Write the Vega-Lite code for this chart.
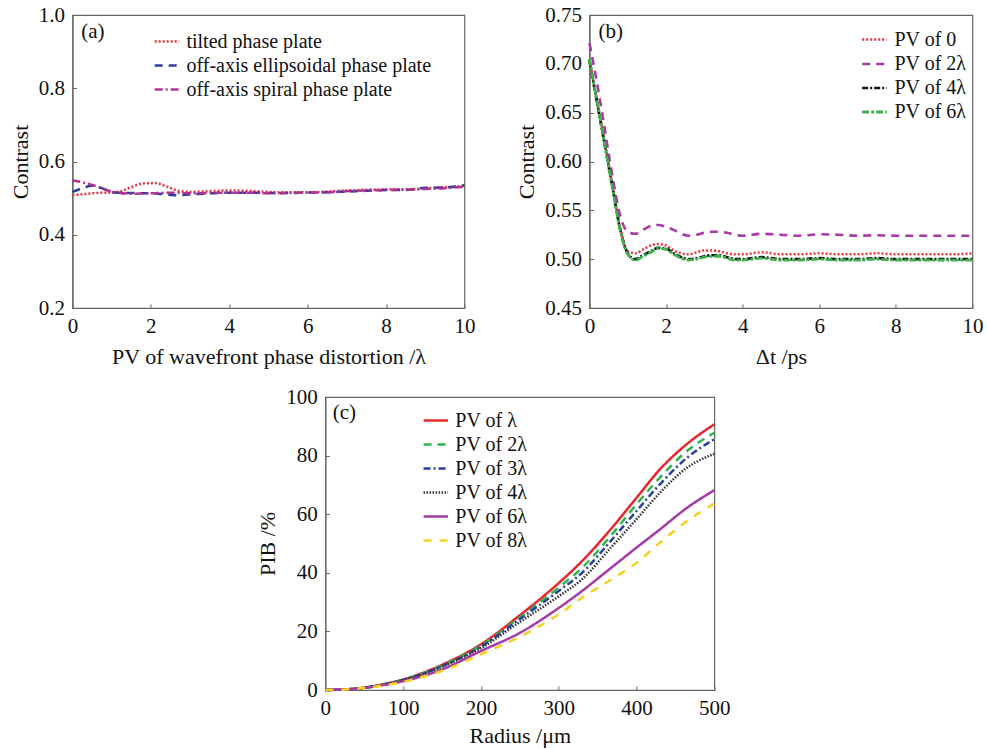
{
  "$schema": "https://vega.github.io/schema/vega-lite/v6.json",
  "padding": {"left": 8, "top": 3, "right": 5, "bottom": 5},
  "background": "white",
  "config": {
    "font": "Liberation Serif",
    "view": {"stroke": "#666", "strokeWidth": 1.2},
    "axis": {
      "grid": false, "domainColor": "#666", "domainWidth": 1.2, "tickColor": "#666", "tickSize": -4,
      "labelFontSize": 21, "titleFontSize": 22, "labelColor": "#111", "titleColor": "#111",
      "titleFontWeight": "normal", "labelFlush": false, "labelOverlap": false
    },
    "axisX": {"labelPadding": 11, "titlePadding": 10},
    "axisY": {"labelPadding": 12, "titlePadding": 6},
    "legend": {
      "labelFontSize": 20, "labelColor": "#111", "symbolType": "stroke", "symbolSize": 600,
      "symbolStrokeWidth": 2.5, "rowPadding": -1, "labelOffset": 6, "padding": 0, "labelLimit": 500
    }
  },
  "resolve": {
    "scale": {"color": "independent", "strokeDash": "independent", "strokeWidth": "independent"},
    "legend": {"color": "independent", "strokeDash": "independent", "strokeWidth": "independent"}
  },
  "spacing": 17,
  "center": true,
  "vconcat": [
    {
      "spacing": 38,
      "resolve": {
        "scale": {"color": "independent", "strokeDash": "independent", "strokeWidth": "independent"},
        "legend": {"color": "independent", "strokeDash": "independent", "strokeWidth": "independent"}
      },
      "hconcat": [
        {
          "width": 392, "height": 293,
          "layer": [
            {
              "data": {"values": [
                {"s":"tilted phase plate","pv":0,"c":0.508},{"s":"tilted phase plate","pv":0.3,"c":0.511},{"s":"tilted phase plate","pv":0.6,"c":0.514},{"s":"tilted phase plate","pv":0.9,"c":0.515},{"s":"tilted phase plate","pv":1.2,"c":0.518},{"s":"tilted phase plate","pv":1.5,"c":0.53},{"s":"tilted phase plate","pv":1.8,"c":0.54},{"s":"tilted phase plate","pv":2.1,"c":0.541},{"s":"tilted phase plate","pv":2.4,"c":0.532},{"s":"tilted phase plate","pv":2.7,"c":0.52},{"s":"tilted phase plate","pv":3.0,"c":0.517},{"s":"tilted phase plate","pv":3.5,"c":0.519},{"s":"tilted phase plate","pv":4.0,"c":0.521},{"s":"tilted phase plate","pv":4.5,"c":0.52},{"s":"tilted phase plate","pv":5.0,"c":0.517},{"s":"tilted phase plate","pv":5.5,"c":0.516},{"s":"tilted phase plate","pv":6.0,"c":0.516},{"s":"tilted phase plate","pv":6.5,"c":0.518},{"s":"tilted phase plate","pv":7.0,"c":0.521},{"s":"tilted phase plate","pv":7.5,"c":0.523},{"s":"tilted phase plate","pv":8.0,"c":0.524},{"s":"tilted phase plate","pv":8.5,"c":0.524},{"s":"tilted phase plate","pv":9.0,"c":0.527},{"s":"tilted phase plate","pv":9.5,"c":0.53},{"s":"tilted phase plate","pv":10,"c":0.533},
                {"s":"off-axis ellipsoidal phase plate","pv":0,"c":0.517},{"s":"off-axis ellipsoidal phase plate","pv":0.25,"c":0.527},{"s":"off-axis ellipsoidal phase plate","pv":0.5,"c":0.534},{"s":"off-axis ellipsoidal phase plate","pv":0.8,"c":0.525},{"s":"off-axis ellipsoidal phase plate","pv":1.1,"c":0.515},{"s":"off-axis ellipsoidal phase plate","pv":1.5,"c":0.514},{"s":"off-axis ellipsoidal phase plate","pv":2.0,"c":0.513},{"s":"off-axis ellipsoidal phase plate","pv":2.3,"c":0.511},{"s":"off-axis ellipsoidal phase plate","pv":2.6,"c":0.508},{"s":"off-axis ellipsoidal phase plate","pv":3.0,"c":0.51},{"s":"off-axis ellipsoidal phase plate","pv":3.5,"c":0.513},{"s":"off-axis ellipsoidal phase plate","pv":4.0,"c":0.515},{"s":"off-axis ellipsoidal phase plate","pv":4.5,"c":0.515},{"s":"off-axis ellipsoidal phase plate","pv":5.0,"c":0.514},{"s":"off-axis ellipsoidal phase plate","pv":5.5,"c":0.514},{"s":"off-axis ellipsoidal phase plate","pv":6.0,"c":0.515},{"s":"off-axis ellipsoidal phase plate","pv":6.5,"c":0.516},{"s":"off-axis ellipsoidal phase plate","pv":7.0,"c":0.518},{"s":"off-axis ellipsoidal phase plate","pv":7.5,"c":0.52},{"s":"off-axis ellipsoidal phase plate","pv":8.0,"c":0.522},{"s":"off-axis ellipsoidal phase plate","pv":8.5,"c":0.522},{"s":"off-axis ellipsoidal phase plate","pv":9.0,"c":0.528},{"s":"off-axis ellipsoidal phase plate","pv":9.5,"c":0.529},{"s":"off-axis ellipsoidal phase plate","pv":10,"c":0.535},
                {"s":"off-axis spiral phase plate","pv":0,"c":0.549},{"s":"off-axis spiral phase plate","pv":0.3,"c":0.542},{"s":"off-axis spiral phase plate","pv":0.6,"c":0.533},{"s":"off-axis spiral phase plate","pv":0.9,"c":0.521},{"s":"off-axis spiral phase plate","pv":1.2,"c":0.514},{"s":"off-axis spiral phase plate","pv":1.5,"c":0.512},{"s":"off-axis spiral phase plate","pv":2.0,"c":0.513},{"s":"off-axis spiral phase plate","pv":2.5,"c":0.515},{"s":"off-axis spiral phase plate","pv":3.0,"c":0.513},{"s":"off-axis spiral phase plate","pv":3.5,"c":0.514},{"s":"off-axis spiral phase plate","pv":4.0,"c":0.515},{"s":"off-axis spiral phase plate","pv":4.5,"c":0.515},{"s":"off-axis spiral phase plate","pv":5.0,"c":0.513},{"s":"off-axis spiral phase plate","pv":5.5,"c":0.514},{"s":"off-axis spiral phase plate","pv":6.0,"c":0.515},{"s":"off-axis spiral phase plate","pv":6.5,"c":0.516},{"s":"off-axis spiral phase plate","pv":7.0,"c":0.519},{"s":"off-axis spiral phase plate","pv":7.5,"c":0.521},{"s":"off-axis spiral phase plate","pv":8.0,"c":0.522},{"s":"off-axis spiral phase plate","pv":8.5,"c":0.523},{"s":"off-axis spiral phase plate","pv":9.0,"c":0.525},{"s":"off-axis spiral phase plate","pv":9.5,"c":0.527},{"s":"off-axis spiral phase plate","pv":10,"c":0.531}
              ]},
              "mark": {"type": "line", "interpolate": "monotone", "strokeWidth": 2.5},
              "encoding": {
                "x": {"field": "pv", "type": "quantitative", "scale": {"domain": [0, 10], "nice": false}, "axis": {"title": "PV of wavefront phase distortion /λ", "values": [0, 2, 4, 6, 8, 10]}},
                "y": {"field": "c", "type": "quantitative", "scale": {"domain": [0.2, 1.0], "nice": false}, "axis": {"title": "Contrast", "values": [0.2, 0.4, 0.6, 0.8, 1.0], "format": ".1f"}},
                "color": {"field": "s", "type": "nominal", "sort": null,
                  "scale": {"domain": ["tilted phase plate", "off-axis ellipsoidal phase plate", "off-axis spiral phase plate"], "range": ["#e8343c", "#2f3d9e", "#b2338f"]},
                  "legend": {"title": null, "orient": "none", "legendX": 81, "legendY": 13}},
                "strokeDash": {"field": "s", "type": "nominal", "sort": null,
                  "scale": {"domain": ["tilted phase plate", "off-axis ellipsoidal phase plate", "off-axis spiral phase plate"], "range": [[2, 2], [8, 6], [8, 3, 2, 3]]},
                  "legend": {"title": null, "orient": "none", "legendX": 81, "legendY": 13}}
              }
            },
            {
              "data": {"values": [{"label": "(a)"}]},
              "mark": {"type": "text", "fontSize": 21, "color": "#111"},
              "encoding": {"x": {"datum": 0.52}, "y": {"datum": 0.954}, "text": {"field": "label"}}
            }
          ]
        },
        {
          "width": 383, "height": 293,
          "layer": [
            {
              "data": {"values": [
                {"s":"PV of 0","t":0,"c":0.705},{"s":"PV of 0","t":0.2,"c":0.662},{"s":"PV of 0","t":0.4,"c":0.62},{"s":"PV of 0","t":0.6,"c":0.576},{"s":"PV of 0","t":0.8,"c":0.533},{"s":"PV of 0","t":1.0,"c":0.508},{"s":"PV of 0","t":1.2,"c":0.506},{"s":"PV of 0","t":1.4,"c":0.51},{"s":"PV of 0","t":1.6,"c":0.514},{"s":"PV of 0","t":1.8,"c":0.5155},{"s":"PV of 0","t":2.0,"c":0.514},{"s":"PV of 0","t":2.2,"c":0.509},{"s":"PV of 0","t":2.4,"c":0.506},{"s":"PV of 0","t":2.6,"c":0.505},{"s":"PV of 0","t":2.8,"c":0.507},{"s":"PV of 0","t":3.0,"c":0.509},{"s":"PV of 0","t":3.2,"c":0.509},{"s":"PV of 0","t":3.4,"c":0.508},{"s":"PV of 0","t":3.6,"c":0.506},{"s":"PV of 0","t":3.8,"c":0.505},{"s":"PV of 0","t":4.0,"c":0.505},{"s":"PV of 0","t":4.5,"c":0.507},{"s":"PV of 0","t":5.0,"c":0.505},{"s":"PV of 0","t":5.5,"c":0.505},{"s":"PV of 0","t":6.0,"c":0.506},{"s":"PV of 0","t":6.5,"c":0.505},{"s":"PV of 0","t":7.0,"c":0.505},{"s":"PV of 0","t":7.5,"c":0.506},{"s":"PV of 0","t":8.0,"c":0.505},{"s":"PV of 0","t":8.5,"c":0.505},{"s":"PV of 0","t":9.0,"c":0.505},{"s":"PV of 0","t":9.5,"c":0.505},{"s":"PV of 0","t":10,"c":0.506},
                {"s":"PV of 2λ","t":0,"c":0.721},{"s":"PV of 2λ","t":0.2,"c":0.68},{"s":"PV of 2λ","t":0.4,"c":0.633},{"s":"PV of 2λ","t":0.6,"c":0.585},{"s":"PV of 2λ","t":0.8,"c":0.545},{"s":"PV of 2λ","t":1.0,"c":0.528},{"s":"PV of 2λ","t":1.2,"c":0.526},{"s":"PV of 2λ","t":1.4,"c":0.53},{"s":"PV of 2λ","t":1.6,"c":0.534},{"s":"PV of 2λ","t":1.8,"c":0.535},{"s":"PV of 2λ","t":2.0,"c":0.533},{"s":"PV of 2λ","t":2.2,"c":0.53},{"s":"PV of 2λ","t":2.4,"c":0.526},{"s":"PV of 2λ","t":2.6,"c":0.524},{"s":"PV of 2λ","t":2.8,"c":0.525},{"s":"PV of 2λ","t":3.0,"c":0.527},{"s":"PV of 2λ","t":3.2,"c":0.528},{"s":"PV of 2λ","t":3.4,"c":0.528},{"s":"PV of 2λ","t":3.6,"c":0.527},{"s":"PV of 2λ","t":3.8,"c":0.525},{"s":"PV of 2λ","t":4.0,"c":0.524},{"s":"PV of 2λ","t":4.5,"c":0.526},{"s":"PV of 2λ","t":5.0,"c":0.525},{"s":"PV of 2λ","t":5.5,"c":0.524},{"s":"PV of 2λ","t":6.0,"c":0.5255},{"s":"PV of 2λ","t":6.5,"c":0.525},{"s":"PV of 2λ","t":7.0,"c":0.524},{"s":"PV of 2λ","t":7.5,"c":0.5245},{"s":"PV of 2λ","t":8.0,"c":0.524},{"s":"PV of 2λ","t":8.5,"c":0.524},{"s":"PV of 2λ","t":9.0,"c":0.524},{"s":"PV of 2λ","t":9.5,"c":0.524},{"s":"PV of 2λ","t":10,"c":0.524},
                {"s":"PV of 4λ","t":0,"c":0.703},{"s":"PV of 4λ","t":0.2,"c":0.66},{"s":"PV of 4λ","t":0.4,"c":0.617},{"s":"PV of 4λ","t":0.6,"c":0.574},{"s":"PV of 4λ","t":0.8,"c":0.531},{"s":"PV of 4λ","t":1.0,"c":0.506},{"s":"PV of 4λ","t":1.2,"c":0.5},{"s":"PV of 4λ","t":1.4,"c":0.504},{"s":"PV of 4λ","t":1.6,"c":0.508},{"s":"PV of 4λ","t":1.8,"c":0.5115},{"s":"PV of 4λ","t":2.0,"c":0.511},{"s":"PV of 4λ","t":2.2,"c":0.506},{"s":"PV of 4λ","t":2.4,"c":0.502},{"s":"PV of 4λ","t":2.6,"c":0.5},{"s":"PV of 4λ","t":2.8,"c":0.501},{"s":"PV of 4λ","t":3.0,"c":0.503},{"s":"PV of 4λ","t":3.2,"c":0.504},{"s":"PV of 4λ","t":3.4,"c":0.504},{"s":"PV of 4λ","t":3.6,"c":0.502},{"s":"PV of 4λ","t":3.8,"c":0.5},{"s":"PV of 4λ","t":4.0,"c":0.5},{"s":"PV of 4λ","t":4.5,"c":0.502},{"s":"PV of 4λ","t":5.0,"c":0.5},{"s":"PV of 4λ","t":5.5,"c":0.5},{"s":"PV of 4λ","t":6.0,"c":0.501},{"s":"PV of 4λ","t":6.5,"c":0.5},{"s":"PV of 4λ","t":7.0,"c":0.5},{"s":"PV of 4λ","t":7.5,"c":0.501},{"s":"PV of 4λ","t":8.0,"c":0.5},{"s":"PV of 4λ","t":8.5,"c":0.5},{"s":"PV of 4λ","t":9.0,"c":0.5},{"s":"PV of 4λ","t":9.5,"c":0.5},{"s":"PV of 4λ","t":10,"c":0.5},
                {"s":"PV of 6λ","t":0,"c":0.705},{"s":"PV of 6λ","t":0.2,"c":0.661},{"s":"PV of 6λ","t":0.4,"c":0.617},{"s":"PV of 6λ","t":0.6,"c":0.573},{"s":"PV of 6λ","t":0.8,"c":0.53},{"s":"PV of 6λ","t":1.0,"c":0.505},{"s":"PV of 6λ","t":1.2,"c":0.499},{"s":"PV of 6λ","t":1.4,"c":0.503},{"s":"PV of 6λ","t":1.6,"c":0.507},{"s":"PV of 6λ","t":1.8,"c":0.511},{"s":"PV of 6λ","t":2.0,"c":0.51},{"s":"PV of 6λ","t":2.2,"c":0.505},{"s":"PV of 6λ","t":2.4,"c":0.501},{"s":"PV of 6λ","t":2.6,"c":0.499},{"s":"PV of 6λ","t":2.8,"c":0.5},{"s":"PV of 6λ","t":3.0,"c":0.502},{"s":"PV of 6λ","t":3.2,"c":0.503},{"s":"PV of 6λ","t":3.4,"c":0.503},{"s":"PV of 6λ","t":3.6,"c":0.501},{"s":"PV of 6λ","t":3.8,"c":0.499},{"s":"PV of 6λ","t":4.0,"c":0.499},{"s":"PV of 6λ","t":4.5,"c":0.501},{"s":"PV of 6λ","t":5.0,"c":0.499},{"s":"PV of 6λ","t":5.5,"c":0.499},{"s":"PV of 6λ","t":6.0,"c":0.5},{"s":"PV of 6λ","t":6.5,"c":0.499},{"s":"PV of 6λ","t":7.0,"c":0.499},{"s":"PV of 6λ","t":7.5,"c":0.5},{"s":"PV of 6λ","t":8.0,"c":0.499},{"s":"PV of 6λ","t":8.5,"c":0.499},{"s":"PV of 6λ","t":9.0,"c":0.499},{"s":"PV of 6λ","t":9.5,"c":0.499},{"s":"PV of 6λ","t":10,"c":0.499}
              ]},
              "mark": {"type": "line", "interpolate": "monotone"},
              "encoding": {
                "x": {"field": "t", "type": "quantitative", "scale": {"domain": [0, 10], "nice": false}, "axis": {"title": "Δt /ps", "values": [0, 2, 4, 6, 8, 10]}},
                "y": {"field": "c", "type": "quantitative", "scale": {"domain": [0.45, 0.75], "nice": false}, "axis": {"title": "Contrast", "values": [0.45, 0.5, 0.55, 0.6, 0.65, 0.7, 0.75], "format": ".2f"}},
                "color": {"field": "s", "type": "nominal", "sort": null,
                  "scale": {"domain": ["PV of 0", "PV of 2λ", "PV of 4λ", "PV of 6λ"], "range": ["#e8343c", "#a83aa8", "#111111", "#3cb34a"]},
                  "legend": {"title": null, "orient": "none", "legendX": 271, "legendY": 11, "rowPadding": -2.6}},
                "strokeDash": {"field": "s", "type": "nominal", "sort": null,
                  "scale": {"domain": ["PV of 0", "PV of 2λ", "PV of 4λ", "PV of 6λ"], "range": [[2, 2], [8, 6], [6, 2, 2, 2], [7, 2, 3, 2]]},
                  "legend": {"title": null, "orient": "none", "legendX": 271, "legendY": 11, "rowPadding": -2.6}},
                "strokeWidth": {"field": "s", "type": "nominal", "sort": null,
                  "scale": {"domain": ["PV of 0", "PV of 2λ", "PV of 4λ", "PV of 6λ"], "range": [2.5, 2.8, 2.3, 3.6]},
                  "legend": {"title": null, "orient": "none", "legendX": 271, "legendY": 11, "rowPadding": -2.6}},
                "order": {"field": "t"}
              }
            },
            {
              "data": {"values": [{"label": "(b)"}]},
              "mark": {"type": "text", "fontSize": 21, "color": "#111"},
              "encoding": {"x": {"datum": 0.556}, "y": {"datum": 0.7326}, "text": {"field": "label"}}
            }
          ]
        }
      ]
    },
    {
      "width": 389, "height": 293,
      "layer": [
        {
          "data": {"values": [
            {"s":"PV of λ","r":0,"p":0},{"s":"PV of λ","r":25,"p":0.2},{"s":"PV of λ","r":50,"p":0.8},{"s":"PV of λ","r":75,"p":2.0},{"s":"PV of λ","r":100,"p":3.6},{"s":"PV of λ","r":150,"p":8.6},{"s":"PV of λ","r":200,"p":15.6},{"s":"PV of λ","r":250,"p":25.5},{"s":"PV of λ","r":300,"p":36.5},{"s":"PV of λ","r":330,"p":44.0},{"s":"PV of λ","r":365,"p":54.3},{"s":"PV of λ","r":400,"p":65.6},{"s":"PV of λ","r":430,"p":75.3},{"s":"PV of λ","r":465,"p":84.0},{"s":"PV of λ","r":500,"p":90.7},
            {"s":"PV of 2λ","r":0,"p":0},{"s":"PV of 2λ","r":25,"p":0.2},{"s":"PV of 2λ","r":50,"p":0.8},{"s":"PV of 2λ","r":75,"p":1.9},{"s":"PV of 2λ","r":100,"p":3.5},{"s":"PV of 2λ","r":150,"p":8.3},{"s":"PV of 2λ","r":200,"p":15.2},{"s":"PV of 2λ","r":250,"p":24.8},{"s":"PV of 2λ","r":300,"p":35.0},{"s":"PV of 2λ","r":330,"p":41.7},{"s":"PV of 2λ","r":365,"p":52.0},{"s":"PV of 2λ","r":400,"p":63.4},{"s":"PV of 2λ","r":430,"p":72.5},{"s":"PV of 2λ","r":465,"p":81.6},{"s":"PV of 2λ","r":500,"p":87.8},
            {"s":"PV of 3λ","r":0,"p":0},{"s":"PV of 3λ","r":25,"p":0.2},{"s":"PV of 3λ","r":50,"p":0.8},{"s":"PV of 3λ","r":75,"p":1.9},{"s":"PV of 3λ","r":100,"p":3.4},{"s":"PV of 3λ","r":150,"p":8.1},{"s":"PV of 3λ","r":200,"p":14.8},{"s":"PV of 3λ","r":250,"p":24.2},{"s":"PV of 3λ","r":300,"p":33.8},{"s":"PV of 3λ","r":330,"p":40.0},{"s":"PV of 3λ","r":365,"p":50.3},{"s":"PV of 3λ","r":400,"p":61.1},{"s":"PV of 3λ","r":430,"p":70.2},{"s":"PV of 3λ","r":465,"p":79.3},{"s":"PV of 3λ","r":500,"p":85.6},
            {"s":"PV of 4λ","r":0,"p":0},{"s":"PV of 4λ","r":25,"p":0.2},{"s":"PV of 4λ","r":50,"p":0.75},{"s":"PV of 4λ","r":75,"p":1.85},{"s":"PV of 4λ","r":100,"p":3.3},{"s":"PV of 4λ","r":150,"p":7.9},{"s":"PV of 4λ","r":200,"p":14.3},{"s":"PV of 4λ","r":250,"p":23.2},{"s":"PV of 4λ","r":300,"p":32.0},{"s":"PV of 4λ","r":330,"p":37.8},{"s":"PV of 4λ","r":365,"p":48.0},{"s":"PV of 4λ","r":400,"p":58.3},{"s":"PV of 4λ","r":430,"p":67.3},{"s":"PV of 4λ","r":465,"p":75.9},{"s":"PV of 4λ","r":500,"p":80.6},
            {"s":"PV of 6λ","r":0,"p":0},{"s":"PV of 6λ","r":25,"p":0.2},{"s":"PV of 6λ","r":50,"p":0.7},{"s":"PV of 6λ","r":75,"p":1.7},{"s":"PV of 6λ","r":100,"p":3.0},{"s":"PV of 6λ","r":150,"p":7.0},{"s":"PV of 6λ","r":200,"p":13.3},{"s":"PV of 6λ","r":250,"p":19.5},{"s":"PV of 6λ","r":300,"p":28.0},{"s":"PV of 6λ","r":330,"p":33.8},{"s":"PV of 6λ","r":365,"p":41.2},{"s":"PV of 6λ","r":400,"p":48.6},{"s":"PV of 6λ","r":430,"p":54.8},{"s":"PV of 6λ","r":465,"p":62.2},{"s":"PV of 6λ","r":500,"p":68.2},
            {"s":"PV of 8λ","r":0,"p":0},{"s":"PV of 8λ","r":25,"p":0.15},{"s":"PV of 8λ","r":50,"p":0.65},{"s":"PV of 8λ","r":75,"p":1.6},{"s":"PV of 8λ","r":100,"p":2.8},{"s":"PV of 8λ","r":150,"p":6.5},{"s":"PV of 8λ","r":200,"p":12.2},{"s":"PV of 8λ","r":250,"p":18.2},{"s":"PV of 8λ","r":300,"p":25.8},{"s":"PV of 8λ","r":330,"p":31.5},{"s":"PV of 8λ","r":365,"p":37.3},{"s":"PV of 8λ","r":400,"p":43.4},{"s":"PV of 8λ","r":430,"p":50.3},{"s":"PV of 8λ","r":465,"p":57.7},{"s":"PV of 8λ","r":500,"p":63.6}
          ]},
          "mark": {"type": "line", "interpolate": "monotone", "strokeWidth": 2.5},
          "encoding": {
            "x": {"field": "r", "type": "quantitative", "scale": {"domain": [0, 500], "nice": false}, "axis": {"title": "Radius /μm", "values": [0, 100, 200, 300, 400, 500], "titlePadding": 7}},
            "y": {"field": "p", "type": "quantitative", "scale": {"domain": [0, 100], "nice": false}, "axis": {"title": "PIB /%", "values": [0, 20, 40, 60, 80, 100]}},
            "color": {"field": "s", "type": "nominal", "sort": null,
              "scale": {"domain": ["PV of λ", "PV of 2λ", "PV of 3λ", "PV of 4λ", "PV of 6λ", "PV of 8λ"], "range": ["#e8262c", "#2fb44a", "#2a3f9f", "#333333", "#a33aa8", "#f4d21e"]},
              "legend": {"title": null, "orient": "none", "legendX": 97, "legendY": 10, "rowPadding": -1.3}},
            "strokeDash": {"field": "s", "type": "nominal", "sort": null,
              "scale": {"domain": ["PV of λ", "PV of 2λ", "PV of 3λ", "PV of 4λ", "PV of 6λ", "PV of 8λ"], "range": [[1, 0], [8, 6], [7, 3, 2, 3], [1.5, 1.5], [1, 0], [8, 8]]},
              "legend": {"title": null, "orient": "none", "legendX": 97, "legendY": 10, "rowPadding": -1.3}}
          }
        },
        {
          "data": {"values": [{"label": "(c)"}]},
          "mark": {"type": "text", "fontSize": 21, "color": "#111"},
          "encoding": {"x": {"datum": 24.4}, "y": {"datum": 94.6}, "text": {"field": "label"}}
        }
      ]
    }
  ]
}
